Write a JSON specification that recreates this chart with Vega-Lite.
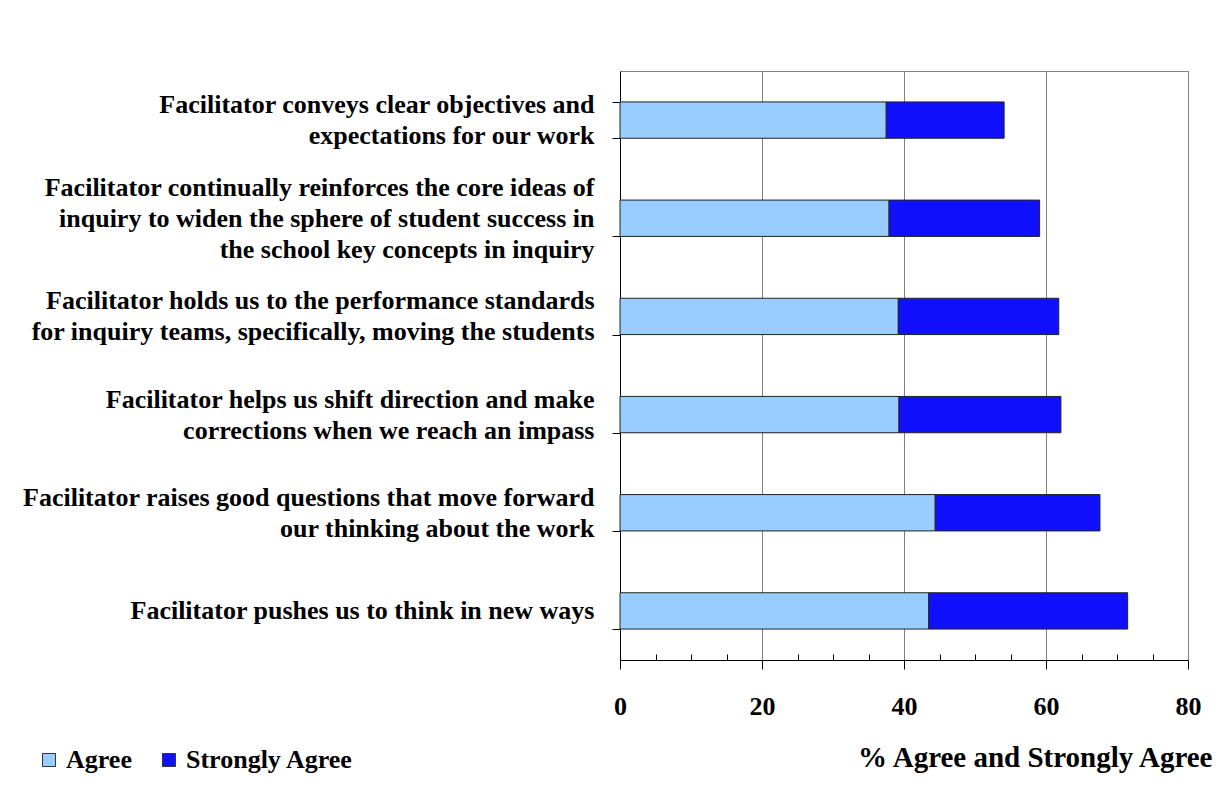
{
  "$schema": "https://vega.github.io/schema/vega-lite/v6.json",
  "width": 568,
  "height": 589,
  "autosize": {"type": "none"},
  "padding": {"left": 620, "top": 71, "right": 34, "bottom": 130},
  "background": "white",
  "data": {
    "values": [
      {"item": "Facilitator conveys clear objectives and|expectations for our work", "level": "Agree", "pct": 37.5},
      {"item": "Facilitator conveys clear objectives and|expectations for our work", "level": "Strongly Agree", "pct": 16.6},
      {"item": "Facilitator continually reinforces the core ideas of|inquiry to widen the sphere of student success in|the school  key concepts in inquiry", "level": "Agree", "pct": 37.9},
      {"item": "Facilitator continually reinforces the core ideas of|inquiry to widen the sphere of student success in|the school  key concepts in inquiry", "level": "Strongly Agree", "pct": 21.2},
      {"item": "Facilitator holds us to the performance standards|for inquiry teams, specifically, moving the students", "level": "Agree", "pct": 39.2},
      {"item": "Facilitator holds us to the performance standards|for inquiry teams, specifically, moving the students", "level": "Strongly Agree", "pct": 22.6},
      {"item": "Facilitator helps us shift direction and make|corrections when we reach an impass", "level": "Agree", "pct": 39.3},
      {"item": "Facilitator helps us shift direction and make|corrections when we reach an impass", "level": "Strongly Agree", "pct": 22.8},
      {"item": "Facilitator raises good questions that move forward|our thinking about the work", "level": "Agree", "pct": 44.4},
      {"item": "Facilitator raises good questions that move forward|our thinking about the work", "level": "Strongly Agree", "pct": 23.2},
      {"item": "Facilitator pushes us to think in new ways", "level": "Agree", "pct": 43.5},
      {"item": "Facilitator pushes us to think in new ways", "level": "Strongly Agree", "pct": 28.0}
    ]
  },
  "mark": {"type": "bar", "stroke": "#222222", "strokeWidth": 1},
  "encoding": {
    "y": {
      "field": "item",
      "type": "nominal",
      "sort": null,
      "scale": {"paddingInner": 0.63, "paddingOuter": 0.315},
      "axis": {
        "title": null,
        "labelExpr": "split(datum.label, '|')",
        "labelFont": "Liberation Serif",
        "labelFontWeight": "bold",
        "labelFontSize": 26,
        "labelLineHeight": 31,
        "labelColor": "black",
        "labelAlign": "right",
        "labelBaseline": "middle",
        "labelPadding": 18,
        "labelLimit": 800,
        "labelOffset": {
          "condition": [
            {"test": "length(split(datum.label, '|')) == 3", "value": -31},
            {"test": "length(split(datum.label, '|')) == 2", "value": -15.5}
          ],
          "value": 0
        },
        "tickBand": "extent",
        "tickSize": 8,
        "tickColor": "black",
        "domainColor": "black",
        "grid": false
      }
    },
    "x": {
      "field": "pct",
      "type": "quantitative",
      "stack": "zero",
      "scale": {"domain": [0, 80], "nice": false},
      "axis": {
        "values": [0, 5, 10, 15, 20, 25, 30, 35, 40, 45, 50, 55, 60, 65, 70, 75, 80],
        "format": "d",
        "title": "% Agree and Strongly Agree",
        "labelExpr": "datum.value % 20 === 0 ? datum.label : ''",
        "labelFont": "Liberation Serif",
        "labelFontSize": 26,
        "labelFontWeight": "bold",
        "labelColor": "black",
        "labelPadding": 24,
        "labelFlush": false,
        "labelOverlap": false,
        "tickSize": {"condition": {"test": "datum.value % 20 === 0", "value": 9}, "value": -6},
        "tickColor": "black",
        "domainColor": "black",
        "grid": true,
        "gridColor": "#808080",
        "gridOpacity": {"condition": {"test": "datum.value % 20 === 0 && datum.value > 0", "value": 1}, "value": 0},
        "titleFont": "Liberation Serif",
        "titleFontSize": 29,
        "titleFontWeight": "bold",
        "titleColor": "black",
        "titleAnchor": "end",
        "titleAlign": "right",
        "titleBaseline": "alphabetic",
        "titleX": 592,
        "titleY": 106
      }
    },
    "color": {
      "field": "level",
      "type": "nominal",
      "scale": {"domain": ["Agree", "Strongly Agree"], "range": ["#99CCFF", "#1010FF"]},
      "legend": {
        "orient": "none",
        "legendX": -584,
        "legendY": 676,
        "direction": "horizontal",
        "title": null,
        "symbolType": "square",
        "symbolSize": 169,
        "symbolStrokeColor": "#333333",
        "symbolStrokeWidth": 1,
        "symbolOpacity": 1,
        "labelFont": "Liberation Serif",
        "labelFontSize": 26,
        "labelFontWeight": "bold",
        "labelColor": "black",
        "labelLimit": 400,
        "columnPadding": 24,
        "labelOffset": 4
      }
    }
  },
  "config": {
    "view": {"stroke": "#808080"},
    "font": "Liberation Serif"
  }
}
